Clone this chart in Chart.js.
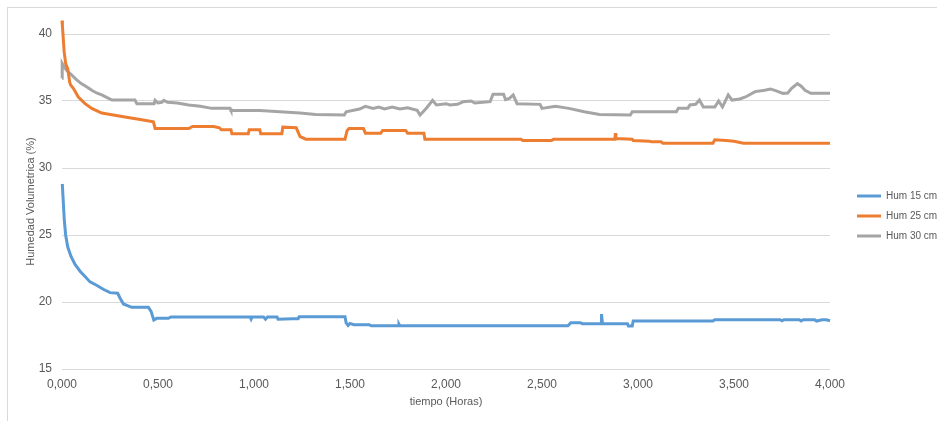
<!DOCTYPE html>
<html>
<head>
<meta charset="utf-8">
<script src="https://cdn.jsdelivr.net/npm/chart.js@4/dist/chart.umd.min.js"></script>
<style>
  body { margin: 0; overflow: hidden; background: #fff; }
  #frame { position: absolute; left: 7px; top: 7px; width: 1000px; height: 1000px; border: 1px solid #d9d9d9; }
  #humChart { position: absolute; left: 0; top: 0; }
</style>
</head>
<body>
<div id="frame"></div>
<canvas id="humChart" width="937" height="421"></canvas>
<script>
// Tiempo (horas) y humedad volumetrica (%) para cada profundidad
const seriesNames = ['Hum 15 cm', 'Hum 25 cm', 'Hum 30 cm'];
const seriesColors = ['#5b9bd5', '#ed7d31', '#a5a5a5'];
const xTicks = [0, 0.5, 1, 1.5, 2, 2.5, 3, 3.5, 4];
const yTicks = [15, 20, 25, 30, 35, 40];

const time15 = [0, 0.002, 0.007, 0.012, 0.019, 0.03, 0.047, 0.068, 0.094, 0.12, 0.146, 0.18, 0.215, 0.25, 0.29, 0.302, 0.32, 0.363, 0.45, 0.464, 0.478, 0.493, 0.554, 0.568,
  0.98, 0.985, 0.99, 1.05, 1.06, 1.07, 1.12, 1.125, 1.2, 1.23, 1.235, 1.474, 1.48, 1.49, 1.5, 1.52, 1.6, 1.61, 1.75, 1.755, 1.76,
  2.635, 2.65, 2.70, 2.71, 2.809, 2.81, 2.815, 2.945, 2.95, 2.97, 2.975, 3.39, 3.4, 3.74, 3.75, 3.76, 3.84, 3.85, 3.86, 3.92, 3.93, 3.96, 3.98, 4.0];
const hum15 = [28.8, 28.7, 27.4, 26.1, 25.0, 24.1, 23.4, 22.8, 22.3, 21.9, 21.5, 21.25, 20.95, 20.7, 20.65, 20.3, 19.85, 19.6, 19.6, 19.3, 18.65, 18.78, 18.78, 18.88,
  18.88, 18.72, 18.88, 18.88, 18.72, 18.88, 18.88, 18.72, 18.75, 18.75, 18.9, 18.9, 18.45, 18.25, 18.4, 18.3, 18.3, 18.22, 18.22, 18.35, 18.22,
  18.22, 18.45, 18.45, 18.38, 18.38, 19.1, 18.38, 18.38, 18.2, 18.2, 18.58, 18.58, 18.68, 18.68, 18.6, 18.68, 18.68, 18.58, 18.68, 18.68, 18.58, 18.68, 18.68, 18.6];

const time25 = [0, 0.002, 0.006, 0.011, 0.019, 0.03, 0.04, 0.045, 0.059, 0.085, 0.12, 0.155, 0.207, 0.267, 0.328, 0.415, 0.476, 0.485, 0.66, 0.68, 0.79, 0.82, 0.83, 0.88, 0.885,
  0.97, 0.975, 1.03, 1.035, 1.145, 1.15, 1.22, 1.24, 1.27, 1.474, 1.485, 1.495, 1.57, 1.58, 1.66, 1.67, 1.79, 1.80, 1.885, 1.89,
  2.39, 2.40, 2.55, 2.56, 2.88, 2.882, 2.885, 2.97, 2.975, 3.06, 3.07, 3.12, 3.13, 3.39, 3.40, 3.46, 3.5, 3.55, 4.0];
const hum25 = [41.0, 40.6, 39.8, 38.7, 37.8, 37.4, 36.4, 36.2, 35.95, 35.3, 34.8, 34.45, 34.1, 33.95, 33.8, 33.6, 33.45, 32.95, 32.95, 33.1, 33.1, 33.0, 32.85, 32.85, 32.55,
  32.55, 32.85, 32.85, 32.55, 32.55, 33.05, 33.0, 32.35, 32.15, 32.15, 32.8, 32.95, 32.95, 32.6, 32.6, 32.8, 32.8, 32.6, 32.6, 32.15,
  32.15, 32.05, 32.05, 32.15, 32.15, 32.6, 32.2, 32.15, 32.05, 32.0, 31.95, 31.95, 31.85, 31.85, 32.1, 32.05, 32.0, 31.85, 31.85];

const time30 = [0, 0.001, 0.015, 0.03, 0.05, 0.075, 0.10, 0.13, 0.155, 0.18, 0.207, 0.235, 0.26, 0.38, 0.39, 0.48, 0.485, 0.50, 0.52, 0.53, 0.55, 0.60, 0.66, 0.72, 0.78, 0.875, 0.88,
  1.03, 1.24, 1.32, 1.47, 1.48, 1.55, 1.58, 1.62, 1.65, 1.68, 1.72, 1.76, 1.8, 1.85, 1.865, 1.90, 1.93, 1.95, 2.0, 2.02, 2.06, 2.09, 2.13, 2.15, 2.23, 2.245,
  2.3, 2.31, 2.33, 2.35, 2.37, 2.49, 2.50, 2.57, 2.64, 2.72, 2.8, 2.96, 2.97, 3.2, 3.21, 3.26, 3.27, 3.30, 3.32, 3.34, 3.4, 3.42, 3.44, 3.47, 3.49, 3.53,
  3.56, 3.61, 3.66, 3.69, 3.72, 3.755, 3.78, 3.8, 3.83, 3.85, 3.87, 3.9, 4.0];
const hum30 = [36.7, 37.8, 37.45, 37.2, 36.95, 36.6, 36.3, 36.05, 35.8, 35.6, 35.45, 35.25, 35.07, 35.07, 34.8, 34.8, 35.05, 34.85, 34.9, 35.05, 34.9, 34.85, 34.7, 34.6, 34.45, 34.45, 34.3,
  34.3, 34.1, 34.0, 33.95, 34.2, 34.4, 34.6, 34.45, 34.55, 34.4, 34.55, 34.4, 34.5, 34.3, 33.95, 34.5, 35.05, 34.7, 34.8, 34.7, 34.75, 34.95, 35.0, 34.85, 34.95, 35.5,
  35.5, 35.1, 35.2, 35.45, 34.8, 34.75, 34.45, 34.6, 34.45, 34.2, 34.0, 33.95, 34.2, 34.2, 34.45, 34.45, 34.7, 34.75, 35.07, 34.55, 34.55, 35.0, 34.55, 35.45, 35.07, 35.15,
  35.3, 35.7, 35.8, 35.9, 35.75, 35.57, 35.6, 35.95, 36.3, 36.1, 35.8, 35.57, 35.57];

const allTimes = [time15, time25, time30];
const allHums = [hum15, hum25, hum30];

function toPoints(times, vals) {
    return times.map((t, i) => ({ x: t, y: vals[i] }));
}

const textGray = '#595959';
const gridGray = '#d9d9d9';

const datasets = seriesNames.map((name, i) => ({
    label: name,
    data: toPoints(allTimes[i], allHums[i]),
    borderColor: seriesColors[i],
    backgroundColor: seriesColors[i],
    borderWidth: 3,
    pointRadius: 0,
    tension: 0,
    clip: false,
    xAxisID: 'x',
    yAxisID: 'y'
}));

// spacer axes only reserve room, like Excel's plot-area margins
const spacer = (size, horizontal) => ({
    display: true,
    position: horizontal ? 'top' : 'right',
    grid: { display: false, drawTicks: false },
    border: { display: false },
    ticks: { display: false },
    afterFit: s => { if (horizontal) s.height = size; else s.width = size; }
});

new Chart(document.getElementById('humChart'), {
    type: 'line',
    data: { datasets },
    options: {
        responsive: false,
        animation: false,
        devicePixelRatio: 1,
        layout: { padding: { left: 15, top: 20, right: 0, bottom: 9 } },
        font: { family: "'Liberation Sans', Arial, sans-serif", size: 10 },
        scales: {
            x: {
                type: 'linear',
                min: 0,
                max: 4,
                afterBuildTicks: s => { s.ticks = xTicks.map(v => ({ value: v })); },
                afterFit: s => { s.height = 43; },
                grid: { display: false, drawTicks: false },
                border: { display: false },
                ticks: {
                    color: textGray,
                    padding: 8,
                    maxRotation: 0,
                    callback: v => v.toFixed(3).replace('.', ',')
                },
                title: {
                    display: true,
                    text: 'tiempo (Horas)',
                    color: textGray,
                    font: { size: 11 },
                    padding: { top: 0, bottom: 3.4 }
                }
            },
            y: {
                min: 15,
                max: 40,
                afterBuildTicks: s => { s.ticks = yTicks.map(v => ({ value: v })); },
                afterFit: s => { s.width = 47; },
                grid: { color: gridGray, drawTicks: false },
                border: { display: false },
                ticks: { color: textGray, padding: 10 },
                title: {
                    display: true,
                    text: 'Humedad Volumetrica (%)',
                    color: textGray,
                    font: { size: 11 },
                    padding: { top: 9.4, bottom: 0 }
                }
            },
            xTop: spacer(14, true),
            yRight: spacer(17, false)
        },
        plugins: {
            legend: {
                position: 'right',
                maxWidth: 90,
                labels: {
                    color: textGray,
                    usePointStyle: true,
                    pointStyle: 'line',
                    pointStyleWidth: 24,
                    padding: 10,
                    font: { size: 10 }
                }
            },
            tooltip: { enabled: false }
        }
    }
});
</script>
</body>
</html>
